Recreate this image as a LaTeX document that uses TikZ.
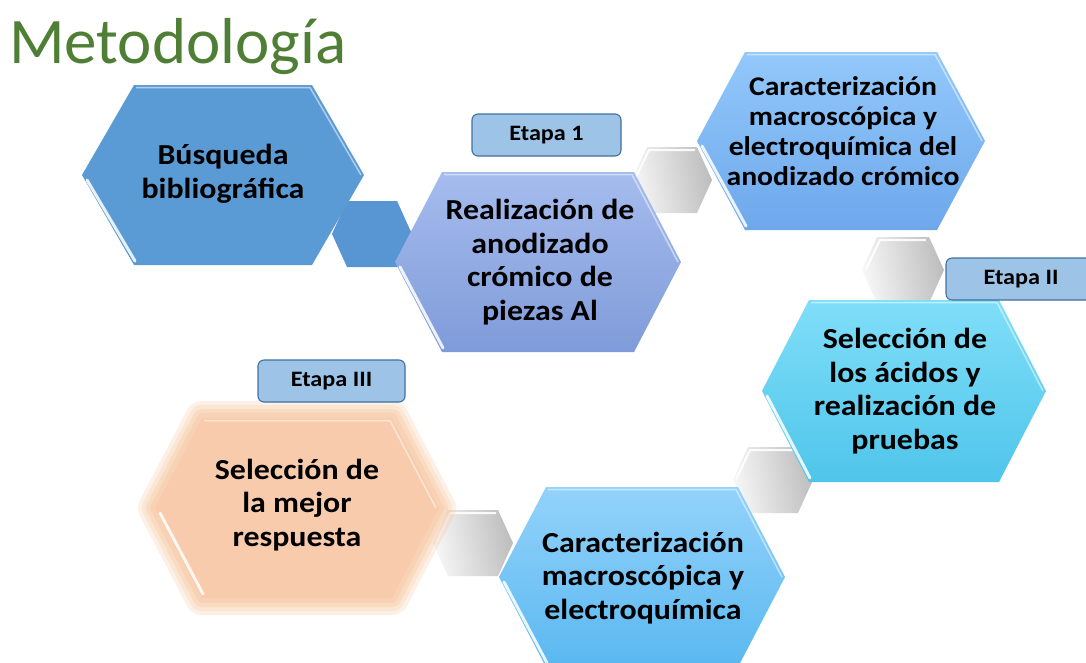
\documentclass[tikz,border=0pt]{standalone}
\usepackage{fontspec}
\setmainfont{Carlito}
\newfontfamily\hexfont{Carlito}[FakeStretch=1.1]
\newfontfamily\titlefont{Carlito}
\definecolor{titlegreen}{HTML}{4F7F35}
\definecolor{hA}{HTML}{5B9BD5}
\definecolor{hAb}{HTML}{5796D2}
\definecolor{hBt}{HTML}{A6BCEE}
\definecolor{hBb}{HTML}{7F9BD9}
\definecolor{hCt}{HTML}{92C8FA}
\definecolor{hCb}{HTML}{6EA8EC}
\definecolor{hDt}{HTML}{80DEF9}
\definecolor{hDb}{HTML}{4FC5EA}
\definecolor{hEt}{HTML}{93D2FB}
\definecolor{hEb}{HTML}{5AB8F0}
\definecolor{hF}{HTML}{F8CBAD}
\definecolor{glow}{HTML}{F4A86E}
\definecolor{gL}{HTML}{F7F7F7}
\definecolor{gR}{HTML}{BDBDBD}
\definecolor{etapa}{HTML}{9DC3E6}
\definecolor{etapaline}{HTML}{41719C}
\newcommand{\HexShape}[6]{%
  \path[#1] ({#2-#4},{#3}) -- ({#2-#4+#6},{#3-#5}) -- ({#2+#4-#6},{#3-#5}) -- ({#2+#4},{#3}) -- ({#2+#4-#6},{#3+#5}) -- ({#2-#4+#6},{#3+#5}) -- cycle;}
\newcommand{\HexBevel}[5]{%
  \draw[white, line width=3, opacity=.85, line cap=round] ({#1-#3+5},{#2+5}) -- ({#1-#3+#5+1},{#2+#4-4});
  \draw[white, line width=1.5, opacity=.5] ({#1-#3+#5+2},{#2-#4+2.5}) -- ({#1+#3-#5-2},{#2-#4+2.5}) -- ({#1+#3-3},{#2});}
\tikzset{
  hextext/.style={align=center, text=black, inner sep=0pt, font=\hexfont\bfseries\fontsize{29}{33.5}\selectfont},
  etapabox/.style={rounded corners=6pt, fill=etapa, draw=etapaline, line width=1.1pt},
  etapatext/.style={text=black, inner sep=0pt, font=\hexfont\bfseries\fontsize{22}{24}\selectfont},
  grayhex/.style={left color=gL, right color=gR, shading angle=100},
}
\begin{document}
\begin{tikzpicture}[x=1pt,y=-1pt]
\useasboundingbox (0,0) rectangle (1086,662);
\fill[white] (0,0) rectangle (1086,662);
\clip (0,0) rectangle (1086,662);
% title
\node[anchor=base west, inner sep=0pt, text=titlegreen, font=\titlefont\fontsize{65}{70}\selectfont] (title) at (9,63) {Metodología};
% small connector hexagons (behind)
\HexShape{fill=hAb}{372}{234}{40}{33}{15}
\HexShape{grayhex}{672}{180}{40}{33}{15}
\HexShape{grayhex}{903}{270}{41}{33}{15}
\HexShape{grayhex}{773}{480}{40}{33}{15}
\HexShape{grayhex}{473}{543}{40}{33}{15}
\foreach \cx/\cy in {672/180, 903/270, 773/480, 473/543}{
  \draw[white, line width=2, opacity=.9] ({\cx-40+3},{\cy-1}) -- ({\cx-25+2},{\cy-33+3}) -- ({\cx+25-2},{\cy-33+3});
}
% big hexagons
\HexShape{fill=hA}{223}{175}{141}{90}{52}
\HexBevel{223}{175}{141}{90}{52}
\HexShape{top color=hBt, bottom color=hBb}{538}{262}{143}{90}{47}
\HexBevel{538}{262}{143}{90}{47}
\HexShape{top color=hCt, bottom color=hCb}{841}{141}{144}{89}{48}
\HexBevel{841}{141}{144}{89}{48}
\HexShape{top color=hDt, bottom color=hDb}{904}{391}{142}{91}{47}
\HexBevel{904}{391}{142}{91}{47}
\HexShape{top color=hEt, bottom color=hEb}{642}{577}{143}{90}{47}
\HexBevel{642}{577}{143}{90}{47}
% glowing hexagon
\foreach \lw in {34,26,18,10}{
  \HexShape{draw=glow, line width=\lw pt, opacity=.16, line join=round}{297}{508}{142}{90}{47}
}
\HexShape{fill=hF}{297}{508}{142}{90}{47}
\HexBevel{297}{508}{142}{90}{47}
% texts
\node[hextext] (busq) at (223,174) {Búsqueda\\bibliográfica};
\node[hextext] (real) at (540,262) {Realización de\\anodizado\\crómico de\\piezas Al};
\node[hextext, font=\hexfont\bfseries\fontsize{27}{30}\selectfont] (carA) at (843,131) {Caracterización\\macroscópica y\\electroquímica del\\anodizado crómico};
\node[hextext] (sela) at (905,391) {Selección de\\los ácidos y\\realización de\\pruebas};
\node[hextext] (carB) at (643,578) {Caracterización\\macroscópica y\\electroquímica};
\node[hextext] (selm) at (297,505) {Selección de\\la mejor\\respuesta};
% stage labels
\draw[etapabox] (472,114) rectangle (621,156);
\node[etapatext] (e1) at (546.5,135) {Etapa 1};
\draw[etapabox] (946,258) rectangle (1100,300);
\node[etapatext] (e2) at (1021,279) {Etapa II};
\draw[etapabox] (258,360) rectangle (405,402);
\node[etapatext] (e3) at (331.5,381) {Etapa III};
\end{tikzpicture}
\end{document}
